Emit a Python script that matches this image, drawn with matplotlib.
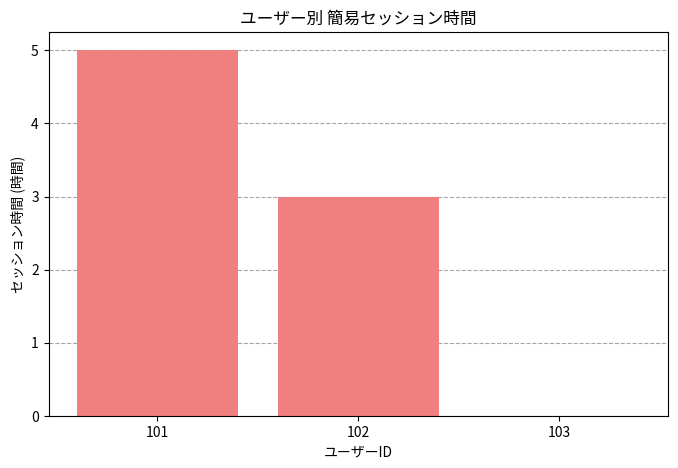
import matplotlib
matplotlib.use("Agg")
import matplotlib.pyplot as plt

plt.rcParams['font.family'] = ['Noto Sans CJK JP', 'DejaVu Sans']

# データ
users = ["101", "102", "103"]
hours = [5, 3, 0]

fig, ax = plt.subplots(figsize=(6.78, 4.68), dpi=100)
ax.bar(users, hours, color="lightcoral")
ax.set_title("ユーザー別 簡易セッション時間")
ax.set_xlabel("ユーザーID")
ax.set_ylabel("セッション時間 (時間)")
ax.grid(axis="y", linestyle="--", color="gray", alpha=0.7)
ax.set_axisbelow(True)
fig.subplots_adjust(left=48.5 / 678, right=668 / 678, top=1 - 32 / 468, bottom=1 - 416 / 468)
fig.savefig("out.png", dpi=100)
